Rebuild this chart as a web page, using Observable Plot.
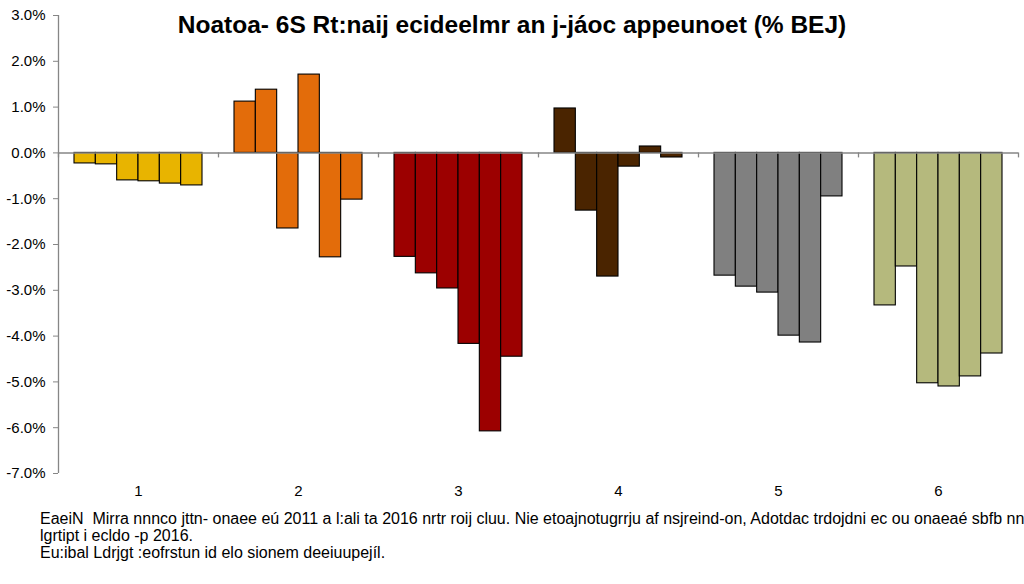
<!DOCTYPE html>
<html>
<head>
<meta charset="utf-8">
<script src="https://cdn.jsdelivr.net/npm/d3@7"></script>
<script src="https://cdn.jsdelivr.net/npm/@observablehq/plot@0.6"></script>
<style>
  html, body { margin: 0; padding: 0; background: #fff; }
  body { width: 1024px; height: 584px; position: relative; overflow: hidden; font-family: "Liberation Sans", Arial, sans-serif; }
  #title { position: absolute; left: 0; top: 10px; width: 1024px; text-align: center; font-weight: bold; font-size: 24.5px; color: #000; line-height: 30px; }
  #chart svg { display: block; }
  #note { margin: 5px 0 0 40px; font-size: 16px; line-height: 17px; color: #000; width: 984px; white-space: nowrap; }
</style>
</head>
<body>
<div id="chart"></div>
<div id="title">Noatoa- 6S Rt:naij ecideelmr an j-jáoc appeunoet (% BEJ)</div>
<div id="note">EaeiN&nbsp; Mirra nnnco jttn- onaee eú 2011 a l:ali ta 2016 nrtr roij cluu. Nie etoajnotugrrju af nsjreind-on, Adotdac trdojdni ec ou onaeaé sbfb nn<br>lgrtipt i ecldo -p 2016.<br>Eu:ibal Ldrjgt :eofrstun id elo sionem deeiuupejíl.</div>
<script>
// Categories (x groups)
const groups = ["1", "2", "3", "4", "5", "6"];
// Group colours
const colors = ["#E8B400", "#E36C0A", "#9C0000", "#4A2400", "#808080", "#B5B97D"];
// Six bars per group (values in %)
const group1 = [-0.23, -0.25, -0.60, -0.62, -0.67, -0.71];
const group2 = [1.12, 1.38, -1.65, 1.71, -2.28, -1.02];
const group3 = [-2.27, -2.63, -2.96, -4.17, -6.08, -4.45];
const group4 = [0.97, -1.26, -2.70, -0.30, 0.14, -0.10];
const group5 = [-2.68, -2.92, -3.05, -3.99, -4.14, -0.95];
const group6 = [-3.33, -2.48, -5.03, -5.10, -4.88, -4.38];
// Y tick values
const yTicks = [-7, -6, -5, -4, -3, -2, -1, 0, 1, 2, 3];

const series = [group1, group2, group3, group4, group5, group6];
const rows = [];
series.forEach((vals, gi) => vals.forEach((v, si) => rows.push({group: groups[gi], gi, si, n: vals.length, value: v})));
const groupIdx = groups.map((g, i) => i);
const bounds = d3.range(groups.length + 1);

const barStart = d => d.gi + 0.1 + d.si * 0.8 / d.n;
const barEnd = d => d.gi + 0.1 + (d.si + 1) * 0.8 / d.n;

const chart = Plot.plot({
  width: 1024,
  height: 505,
  marginLeft: 58,
  marginRight: 6,
  marginTop: 15,
  marginBottom: 32,
  style: {fontFamily: "'Liberation Sans', Arial, sans-serif", fontSize: "15px", color: "#000", background: "#fff"},
  x: {type: "linear", domain: [0, groups.length], axis: null},
  y: {type: "linear", domain: [-7, 3], axis: null},
  marks: [
    Plot.rectY(rows, {x1: barStart, x2: barEnd, y1: 0, y2: "value", fill: d => colors[d.gi], stroke: "#000", strokeWidth: 1.1}),
    Plot.ruleY([0], {stroke: "#868686", strokeWidth: 1.5}),
    Plot.ruleX(bounds, {y1: 0, y2: 0, insetBottom: -5, stroke: "#868686", strokeWidth: 1.3}),
    Plot.ruleX([0], {y1: -7, y2: 3, stroke: "#868686", strokeWidth: 1.3}),
    Plot.axisY({ticks: yTicks, tickFormat: d => d.toFixed(1) + "%", tickSize: 5, tickPadding: 8, stroke: "#868686", fill: "#000", fontSize: 15, label: null}),
    Plot.axisX({ticks: groupIdx.map(i => i + 0.5), tickFormat: d => groups[Math.floor(d)], tickSize: 0, tickPadding: 12, fill: "#000", fontSize: 15, label: null})
  ]
});
document.getElementById("chart").appendChild(chart);
</script>
</body>
</html>
